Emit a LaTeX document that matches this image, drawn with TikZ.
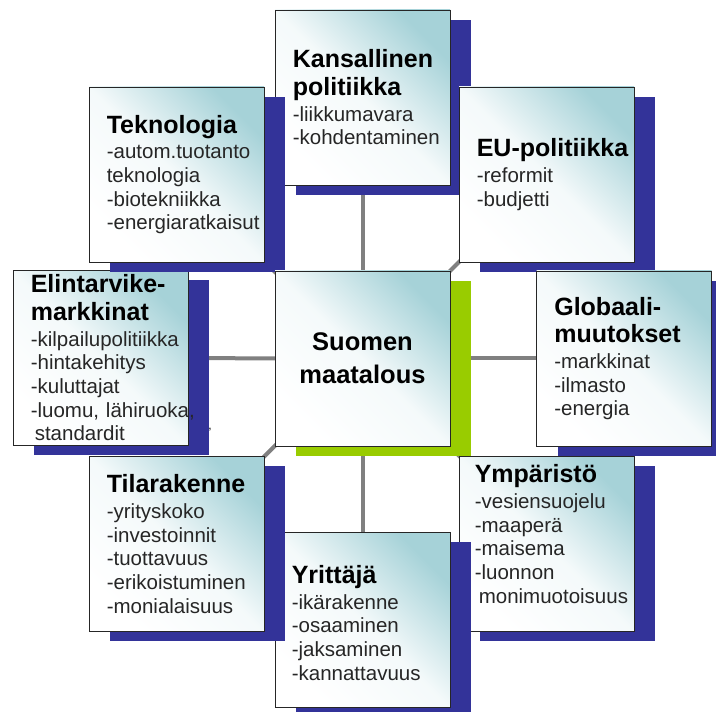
\documentclass[tikz,border=0pt]{standalone}
\usepackage{fontspec}
\setmainfont{Liberation Sans}
\usepackage{tikz}
\usetikzlibrary{shadows, backgrounds}
\usepackage{xcolor}
\definecolor{shadowblue}{RGB}{51,51,153}
\definecolor{leafgreen}{RGB}{153,204,0}
\definecolor{paleteal}{RGB}{166,210,216}
\definecolor{linkgray}{RGB}{128,128,128}
\newcommand{\cardtitle}[1]{{\fontsize{25}{27.5}\selectfont\bfseries\color{black}#1\par}\vspace{2pt}}
\tikzset{
    card/.style={
        rectangle,
        draw=black!85,
        line width=0.8pt,
        minimum width=175pt,
        minimum height=175pt,
        inner sep=0pt,
        top color=paleteal,
        bottom color=white,
        middle color=paleteal!12,
        shading angle=-45,
        drop shadow={shadow xshift=21pt, shadow yshift=-10pt, fill=#1, opacity=1}
    },
    card/.default=shadowblue,
    cardtext/.style={
        anchor=west,
        inner sep=0pt,
        text width=200pt,
        align=left,
        font=\fontsize{20.5}{23.7}\selectfont,
        text=black!85
    },
    hubtext/.style={
        inner sep=0pt,
        align=center,
        font=\fontsize{25.5}{33}\selectfont\bfseries
    },
    link/.style={
        draw=linkgray,
        line width=4pt
    }
}

\begin{document}
\begin{tikzpicture}[x=1pt,y=1pt]
      \useasboundingbox (0,0) rectangle (716,712);

      % cards, clockwise from the top
      \node[card] (K) at (362.5,614.5) {};
      \node[cardtext] (Kt) at ([xshift=18pt]K.west)
        {\cardtitle{Kansallinen\\politiikka}-liikkumavara\\-kohdentaminen};

      \node[card] (EU) at (546.5,537.5) {};
      \node[cardtext] (EUt) at ([xshift=18pt]EU.west)
        {\cardtitle{EU-politiikka}-reformit\\-budjetti};

      \node[card] (G) at (624,353.5) {};
      \node[cardtext] (Gt) at ([xshift=18pt]G.west)
        {\cardtitle{Globaali-\\muutokset}-markkinat\\-ilmasto\\-energia};

      \node[card] (Ym) at (546.5,168) {};
      \node[cardtext] (Ymt) at ([xshift=16pt,yshift=10pt]Ym.west)
        {\cardtitle{Ympäristö}-vesiensuojelu\\-maaperä\\-maisema\\-luonnon\\\hspace*{4pt}monimuotoisuus};

      \node[card] (Yr) at (362.5,92) {};
      \node[cardtext] (Yrt) at ([xshift=17pt,yshift=-3pt]Yr.west)
        {\cardtitle{Yrittäjä}-ikärakenne\\-osaaminen\\-jaksaminen\\-kannattavuus};

      \node[card] (T) at (176.5,168) {};
      \node[cardtext] (Tt) at ([xshift=18pt]T.west)
        {\cardtitle{Tilarakenne}-yrityskoko\\-investoinnit\\-tuottavuus\\-erikoistuminen\\-monialaisuus};

      \node[card] (E) at (100.5,354) {};
      \node[cardtext] (Et) at ([xshift=18pt]E.west)
        {\cardtitle{Elintarvike-\\markkinat}-kilpailupolitiikka\\-hintakehitys\\-kuluttajat\\-luomu, lähiruoka,\\\hspace*{4pt}standardit};
      \node[inner sep=0pt, font=\fontsize{12}{12}\selectfont] (Em) at (210,282) {,};

      \node[card] (Tk) at (176.5,537.5) {};
      \node[cardtext] (Tkt) at ([xshift=18pt]Tk.west)
        {\cardtitle{Teknologia}-autom.tuotanto\\teknologia\\-biotekniikka\\-energiaratkaisut};

      % hub in the middle
      \node[card=leafgreen] (M) at (362.5,353.5) {};
      \node[hubtext] (Mt) at (M) {Suomen\\maatalous};

      % spokes sit behind everything
      \begin{pgfonlayer}{background}
        \fill[white] (0,0) rectangle (716,712);
        \foreach \n in {K,EU,G,Ym,Yr,T,E,Tk}
          \draw[link] (M.center) -- (\n.center);
      \end{pgfonlayer}

    \end{tikzpicture}
\end{document}
